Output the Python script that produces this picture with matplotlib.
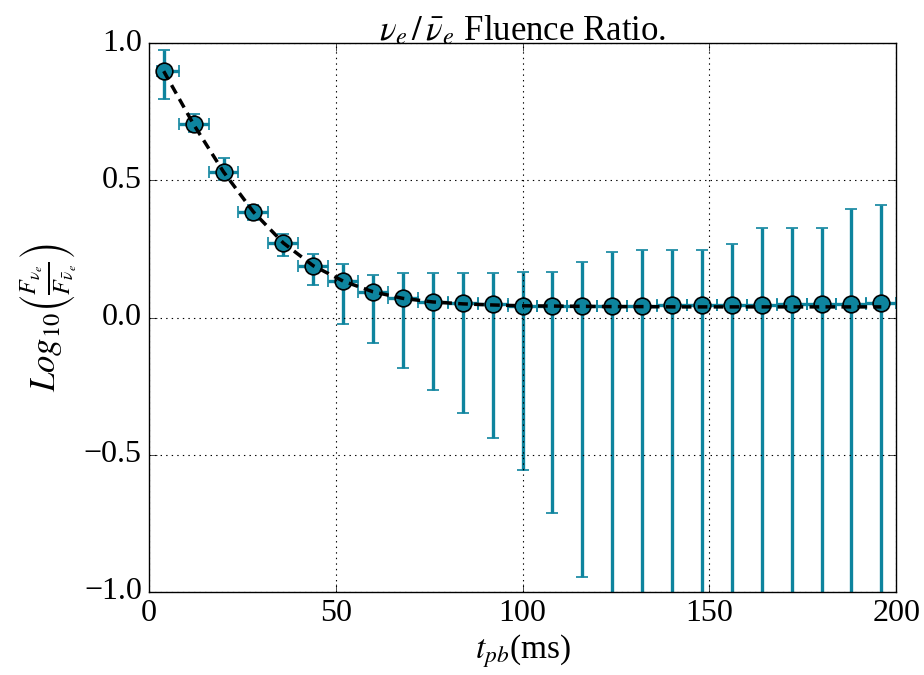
import numpy as np
import matplotlib
matplotlib.use("Agg")
import matplotlib.pyplot as plt

plt.style.use("classic")
plt.rcParams["font.family"] = ["Liberation Serif", "DejaVu Serif"]
plt.rcParams["mathtext.fontset"] = "stix"

# tiempos (ms) y cociente de fluencias
t_pb = [4, 12, 20, 28, 36, 44, 52, 60, 68, 76, 84, 92, 100,
        108, 116, 124, 132, 140, 148, 156, 164, 172, 180, 188, 196]
log_ratio = [0.898, 0.704, 0.531, 0.385, 0.272, 0.189, 0.133, 0.094, 0.070,
             0.058, 0.052, 0.048, 0.043, 0.043, 0.043, 0.044, 0.044, 0.045,
             0.046, 0.046, 0.047, 0.048, 0.049, 0.050, 0.052]
err_top = [0.975, 0.741, 0.580, 0.410, 0.304, 0.231, 0.196, 0.157, 0.161,
           0.163, 0.163, 0.163, 0.165, 0.165, 0.201, 0.240, 0.246, 0.246,
           0.246, 0.270, 0.325, 0.327, 0.327, 0.394, 0.411]
err_bottom = [0.795, 0.675, 0.500, 0.355, 0.225, 0.118, -0.024, -0.094, -0.183,
              -0.265, -0.348, -0.439, -0.555, -0.712, -0.944, -1.3, -1.3, -1.3,
              -1.3, -1.3, -1.3, -1.3, -1.3, -1.3, -1.3]
xerr_left = [1.8] + [4] * 24
xerr_right = [4] * 25
# curva del modelo (linea discontinua)
modelo = [0.898, 0.704, 0.531, 0.385, 0.272, 0.189, 0.133, 0.094, 0.070,
          0.057, 0.050, 0.046, 0.043, 0.042, 0.041, 0.040, 0.040, 0.039,
          0.039, 0.039, 0.039, 0.039, 0.039, 0.039, 0.039]

y = np.array(log_ratio)
yerr = [y - np.array(err_bottom), np.array(err_top) - y]

color = "#0e849e"

fig = plt.figure(figsize=(9.24, 6.75), dpi=100, facecolor="white")
ax = fig.add_axes([0.161, 0.123, 0.809, 0.813])

ax.errorbar(t_pb, log_ratio, yerr=yerr, xerr=[xerr_left, xerr_right],
            fmt="o", color=color, ecolor=color, mfc=color, mec="black",
            mew=1.2, ms=12, elinewidth=2.4, capsize=4, capthick=2, zorder=2)
ax.plot(t_pb, modelo, "k--", lw=2.5, dashes=(7, 4.5), zorder=3)

ax.set_xlim(0, 200)
ax.set_ylim(-1, 1)
ax.set_xticks([0, 50, 100, 150, 200])
ax.set_yticks([-1.0, -0.5, 0.0, 0.5, 1.0])
ax.grid(True, color="black", linestyle=":", linewidth=0.8)
ax.tick_params(labelsize=23, length=6, pad=5)

ax.set_xlabel(r"$t_{pb}$(ms)", fontsize=24, labelpad=3)
ax.set_ylabel(r"$Log_{10}\left(\frac{F_{\nu_e}}{F_{\bar{\nu}_e}}\right)$",
              fontsize=25, labelpad=4)
ax.set_title(r"$\nu_e\,/\,\bar{\nu}_e$ Fluence Ratio.", fontsize=25, pad=2)

fig.savefig("out.png", dpi=100, facecolor="white")
